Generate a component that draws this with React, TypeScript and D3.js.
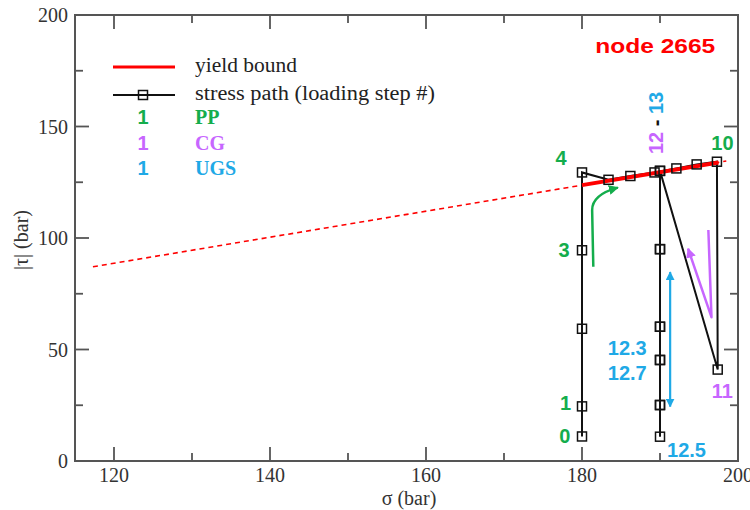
import React from 'react';
import * as d3 from 'd3';

const xDomain = [115, 200];
const yDomain = [0, 200];
const xMajorTicks = [120, 140, 160, 180, 200];
const xMinorTicks = [130, 150, 170, 190];
const yMajorTicks = [0, 50, 100, 150, 200];
const yMinorTicks = [25, 75, 125, 175];

// stress path, loading steps 0..13 (with 12.1..12.9 sub-steps)
const stressSigma = [180, 180, 180, 180, 180, 183.4, 186.2, 189.3, 192.1, 194.7, 197.3, 197.4, 190, 190, 190, 190, 190, 190, 190, 190, 190, 190, 190];
const stressTau = [11, 24.5, 59.3, 94.5, 129.4, 126.1, 127.8, 129.4, 131.2, 133.0, 134.2, 41, 130.1, 95, 60.2, 45.3, 25.1, 10.9, 25.1, 45.3, 60.2, 95, 130.1];

const yieldDashedSigma = [117.3, 198.5];
const yieldDashedTau = [87.1, 134.5];
const yieldSolidSigma = [180, 197.5];
const yieldSolidTau = [123.7, 133.9];

// annotation arrows (data coords)
const greenArrowSigma = [181.45, 181.3, 181.3, 184.6];
const greenArrowTau = [87.1, 112.5, 119.5, 122.6];
const purpleArrowSigma = [196.2, 196.6, 193.6];
const purpleArrowTau = [103.6, 64.5, 95.2];
const blueArrowSigma = [191.3, 191.3];
const blueArrowTau = [84.7, 24.4];

const GREEN = '#14ad4c';
const PURPLE = '#c766ff';
const BLUE = '#1fa9e6';
const RED = '#ff0000';

const stepLabels = [
  { text: '4', sigma: 177.3, tau: 132.7, color: GREEN },
  { text: '3', sigma: 177.7, tau: 91.5, color: GREEN },
  { text: '1', sigma: 177.9, tau: 22.9, color: GREEN },
  { text: '0', sigma: 177.8, tau: 8.1, color: GREEN },
  { text: '10', sigma: 198.0, tau: 139.5, color: GREEN },
  { text: '11', sigma: 198.0, tau: 28.3, color: PURPLE },
  { text: '12.3', sigma: 185.8, tau: 47.5, color: BLUE },
  { text: '12.7', sigma: 185.8, tau: 36.3, color: BLUE },
  { text: '12.5', sigma: 193.4, tau: 1.8, color: BLUE },
];

const legendPhases = [
  { text: 'PP', color: GREEN },
  { text: 'CG', color: PURPLE },
  { text: 'UGS', color: BLUE },
];

const W = 750, H = 510;
const L = 75, R = 738, T = 15, B = 461;

export default function App() {
  const x = d3.scaleLinear().domain(xDomain).range([L, R]);
  const y = d3.scaleLinear().domain(yDomain).range([B, T]);
  const axisColor = '#555';
  const serif = 'Liberation Serif, Times New Roman, Times, DejaVu Serif, serif';
  const sans = 'Liberation Sans, Arial, sans-serif';

  const line = d3.line<[number, number]>().x(d => x(d[0])).y(d => y(d[1]));
  const zip = (a: number[], b: number[]) => a.map((v, i) => [v, b[i]] as [number, number]);

  const stressPts = zip(stressSigma, stressTau);
  const greenPts = zip(greenArrowSigma, greenArrowTau);
  const greenPath = `M${x(greenPts[0][0])},${y(greenPts[0][1])} L${x(greenPts[1][0])},${y(greenPts[1][1])} Q${x(greenPts[2][0])},${y(greenPts[2][1])} ${x(greenPts[3][0])},${y(greenPts[3][1])}`;

  const ms = 9;
  const major = 14, minor = 8;

  return (
    <svg width={W} height={H} style={{ position: 'absolute', left: 0, top: 0, background: '#fff' }}>
      <defs>
        {[['g', GREEN], ['p', PURPLE], ['b', BLUE]].map(([id, c]) => (
          <marker key={id} id={`arr-${id}`} viewBox="0 0 10 10" refX="9" refY="5" markerWidth="4" markerHeight="4" orient="auto-start-reverse">
            <path d="M0,0 L10,5 L0,10 z" fill={c} />
          </marker>
        ))}
      </defs>

      {/* ticks */}
      <g stroke={axisColor} strokeWidth={1.8}>
        {xMajorTicks.map(t => (
          <g key={'xm' + t}>
            <line x1={x(t)} x2={x(t)} y1={B} y2={B - major} />
            <line x1={x(t)} x2={x(t)} y1={T} y2={T + major} />
          </g>
        ))}
        {xMinorTicks.map(t => (
          <g key={'xn' + t}>
            <line x1={x(t)} x2={x(t)} y1={B} y2={B - minor} />
            <line x1={x(t)} x2={x(t)} y1={T} y2={T + minor} />
          </g>
        ))}
        {yMajorTicks.map(t => (
          <g key={'ym' + t}>
            <line x1={L} x2={L + major} y1={y(t)} y2={y(t)} />
            <line x1={R} x2={R - major} y1={y(t)} y2={y(t)} />
          </g>
        ))}
        {yMinorTicks.map(t => (
          <g key={'yn' + t}>
            <line x1={L} x2={L + minor} y1={y(t)} y2={y(t)} />
            <line x1={R} x2={R - minor} y1={y(t)} y2={y(t)} />
          </g>
        ))}
      </g>
      <rect x={L} y={T} width={R - L} height={B - T} fill="none" stroke={axisColor} strokeWidth={2} />

      {/* tick labels */}
      <g style={{ fontFamily: serif }} fontSize={20} fill="#333">
        {xMajorTicks.map(t => (
          <text key={'xl' + t} x={x(t)} y={B + 21} textAnchor="middle">{t}</text>
        ))}
        {yMajorTicks.map(t => (
          <text key={'yl' + t} x={L - 7} y={y(t) + 7} textAnchor="end">{t}</text>
        ))}
      </g>
      <text x={409} y={505} textAnchor="middle" style={{ fontFamily: serif }} fontSize={20} fill="#333">σ  (bar)</text>
      <text transform={`translate(28,240) rotate(-90)`} textAnchor="middle" style={{ fontFamily: serif }} fontSize={20} fill="#333">|τ| (bar)</text>

      {/* yield bound */}
      <path d={line(zip(yieldDashedSigma, yieldDashedTau)) || ''} stroke={RED} strokeWidth={1.6} strokeDasharray="5,4" fill="none" />

      {/* stress path */}
      <path d={line(stressPts) || ''} stroke="#111" strokeWidth={2} fill="none" />
      <path d={line(zip(yieldSolidSigma, yieldSolidTau)) || ''} stroke={RED} strokeWidth={4} fill="none" />
      {stressPts.map((p, i) => (
        <rect key={'m' + i} x={x(p[0]) - ms / 2} y={y(p[1]) - ms / 2} width={ms} height={ms} fill="none" stroke="#111" strokeWidth={1.5} />
      ))}

      {/* annotation arrows */}
      <path d={greenPath} stroke={GREEN} strokeWidth={2.5} fill="none" markerEnd="url(#arr-g)" />
      <path d={line(zip(purpleArrowSigma, purpleArrowTau)) || ''} stroke={PURPLE} strokeWidth={2.5} fill="none" strokeLinejoin="round" markerEnd="url(#arr-p)" />
      <path d={line(zip(blueArrowSigma, blueArrowTau)) || ''} stroke={BLUE} strokeWidth={2.2} fill="none" markerStart="url(#arr-b)" markerEnd="url(#arr-b)" />

      {/* step labels */}
      <g style={{ fontFamily: sans }} fontWeight="bold" fontSize={20}>
        {stepLabels.map((s, i) => (
          <text key={'s' + i} x={x(s.sigma)} y={y(s.tau)} textAnchor="middle" fill={s.color}>{s.text}</text>
        ))}
        <text transform={`translate(${x(190.4)},${y(151.6)}) rotate(-90)`} textAnchor="middle">
          <tspan fill={PURPLE}>12</tspan>
          <tspan fill="#111"> - </tspan>
          <tspan fill={BLUE}>13</tspan>
        </text>
      </g>
      <text x={x(181.7)} y={y(183)} style={{ fontFamily: sans }} fontWeight="bold" fontSize={21} fill={RED} textLength={120} lengthAdjust="spacingAndGlyphs">node 2665</text>

      {/* legend */}
      <line x1={113} x2={175} y1={67} y2={67} stroke={RED} strokeWidth={3} />
      <text x={195} y={72} style={{ fontFamily: serif }} fontSize={20.5} fill="#222" textLength={102} lengthAdjust="spacingAndGlyphs">yield bound</text>
      <line x1={113} x2={175} y1={95} y2={95} stroke="#111" strokeWidth={2} />
      <rect x={143 - ms / 2} y={95 - ms / 2} width={ms} height={ms} fill="none" stroke="#111" strokeWidth={1.5} />
      <text x={195} y={100} style={{ fontFamily: serif }} fontSize={20.5} fill="#222" textLength={240} lengthAdjust="spacingAndGlyphs">stress  path (loading step #)</text>
      {legendPhases.map((p, i) => (
        <g key={'lp' + i}>
          <text x={143} y={124 + i * 25.5} textAnchor="middle" style={{ fontFamily: sans }} fontWeight="bold" fontSize={20} fill={p.color}>1</text>
          <text x={195} y={124 + i * 25.5} style={{ fontFamily: serif }} fontWeight="bold" fontSize={20} fill={p.color}>{p.text}</text>
        </g>
      ))}
    </svg>
  );
}
